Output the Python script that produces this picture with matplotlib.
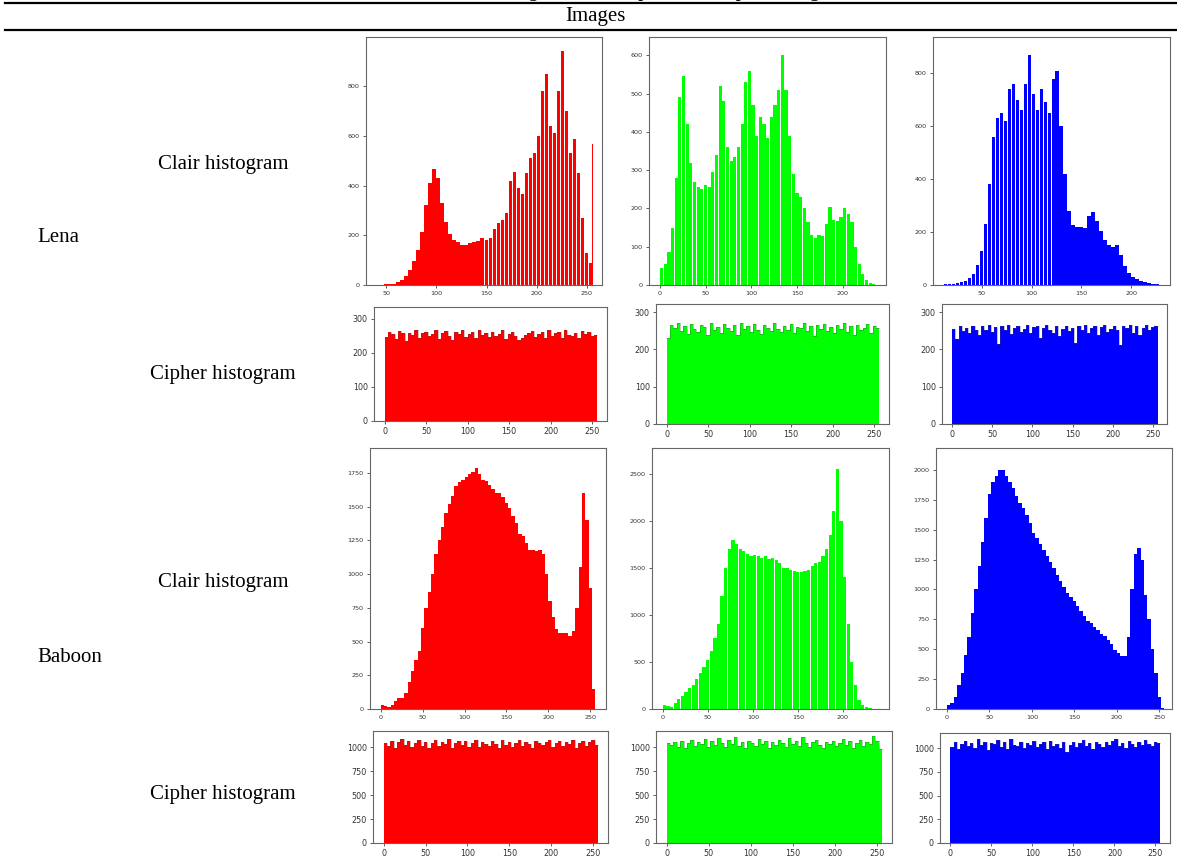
import numpy as np
import matplotlib
matplotlib.use('Agg')
import matplotlib.pyplot as plt
from matplotlib.lines import Line2D

# ---------------- data (counts per intensity bin, bins of width 4: 0,4,...,252) ----------------
bin_step = 4
levels = np.arange(0, 256, bin_step)

lena_red_clair = [
    0, 0, 0, 0, 0, 0, 0, 0,
    0, 0, 1, 2, 3, 4, 6, 12,
    22, 38, 60, 95, 140, 215, 320, 410,
    465, 430, 330, 255, 205, 180, 172, 162,
    160, 168, 172, 178, 190, 182, 188, 225,
    250, 262, 290, 420, 455, 390, 365, 450,
    510, 530, 600, 780, 850, 640, 610, 780,
    940, 700, 530, 585, 450, 270, 130, 90]
lena_red_spike_level = 255
lena_red_spike_count = 565

lena_green_clair = [
    45, 55, 85, 150, 280, 490, 545, 420,
    320, 268, 255, 250, 262, 255, 295, 340,
    520, 480, 360, 325, 335, 360, 420, 530,
    560, 470, 390, 440, 420, 385, 440, 470,
    510, 600, 510, 390, 290, 240, 230, 200,
    165, 130, 122, 130, 128, 160, 205, 170,
    168, 178, 200, 185, 165, 100, 55, 28,
    12, 5, 2, 0, 0, 0, 0, 0]

lena_blue_clair = [
    0, 0, 0, 2, 4, 5, 7, 10,
    15, 25, 40, 75, 130, 230, 380, 560,
    630, 650, 620, 740, 760, 700, 660, 760,
    870, 720, 660, 740, 690, 650, 780, 810,
    600, 420, 280, 225, 220, 220, 215, 260,
    275, 240, 205, 170, 150, 145, 150, 115,
    70, 45, 30, 22, 14, 10, 7, 5,
    3, 1, 0, 0, 0, 0, 0, 0]

baboon_red_clair = [
    30, 25, 15, 30, 60, 80, 80, 120,
    200, 280, 360, 430, 600, 750, 870, 1000,
    1150, 1250, 1350, 1450, 1520, 1580, 1650, 1680,
    1700, 1720, 1740, 1760, 1790, 1740, 1700, 1690,
    1660, 1630, 1600, 1600, 1570, 1530, 1490, 1430,
    1380, 1300, 1280, 1230, 1180, 1180, 1170, 1180,
    1150, 1000, 800, 680, 590, 560, 560, 560,
    540, 580, 750, 1050, 1600, 1400, 900, 150]

baboon_green_clair = [
    40, 30, 25, 60, 110, 140, 180, 220,
    260, 320, 380, 450, 520, 620, 750, 900,
    1200, 1500, 1700, 1800, 1750, 1700, 1680, 1650,
    1620, 1640, 1620, 1600, 1630, 1590, 1600, 1580,
    1550, 1500, 1500, 1480, 1470, 1450, 1450, 1470,
    1480, 1520, 1550, 1560, 1620, 1700, 1850, 2100,
    2550, 2000, 1400, 900, 500, 250, 100, 40,
    20, 8, 2, 0, 0, 0, 0, 0]

baboon_blue_clair = [
    30, 50, 100, 200, 300, 450, 600, 800,
    1000, 1200, 1400, 1600, 1800, 1900, 1950, 2000,
    2000, 1950, 1900, 1850, 1780, 1720, 1680, 1620,
    1560, 1470, 1430, 1380, 1330, 1280, 1230, 1180,
    1120, 1070, 1020, 970, 940, 900, 860, 820,
    780, 740, 720, 690, 660, 630, 610, 580,
    540, 490, 470, 440, 440, 600, 1000, 1300,
    1350, 1250, 950, 750, 500, 300, 100, 10]

lena_red_cipher = [
    248, 262, 255, 240, 265, 258, 236, 260,
    252, 266, 245, 258, 263, 249, 256, 268,
    242, 259, 264, 251, 238, 262, 257, 266,
    247, 255, 261, 244, 267, 253, 259, 246,
    263, 250, 257, 268, 241, 255, 262, 249,
    237, 245, 252, 259, 264, 248, 256, 261,
    243, 266, 251, 258, 262, 245, 267, 254,
    249, 260, 244, 265, 257, 262, 250, 252]

lena_green_cipher = [
    232, 265, 258, 270, 249, 262, 241, 268,
    255, 247, 266, 259, 238, 270, 252, 261,
    244, 268, 257, 250, 265, 239, 271, 256,
    262, 248, 269, 253, 241, 266, 258, 249,
    270, 255, 246, 263, 252, 268, 243, 260,
    257, 271, 249, 262, 237, 266, 254, 269,
    250, 259, 243, 265, 256, 270, 248, 262,
    240, 266, 253, 258, 268, 245, 262, 257]

lena_blue_cipher = [
    255, 228, 262, 249, 258, 243, 264, 252,
    238, 262, 251, 266, 247, 259, 216, 262,
    253, 265, 241, 257, 263, 248, 255, 265,
    244, 259, 262, 232, 258, 266, 251, 245,
    262, 236, 255, 264, 249, 257, 218, 263,
    252, 266, 245, 258, 263, 240, 259, 266,
    248, 255, 264, 251, 212, 262, 257, 265,
    245, 262, 240, 258, 266, 252, 259, 264]

baboon_red_cipher = [
    1040, 1010, 1065, 990, 1050, 1080, 1020, 1060,
    1000, 1045, 1075, 1015, 1055, 990, 1040, 1070,
    1010, 1050, 1030, 1085, 995, 1045, 1060, 1020,
    1065, 1005, 1040, 1075, 1000, 1055, 1030, 1010,
    1060, 1035, 990, 1070, 1020, 1050, 1000, 1045,
    1075, 1015, 1055, 1030, 985, 1060, 1040, 1020,
    1050, 1070, 1000, 1045, 1065, 1010, 1055, 1030,
    1070, 995, 1040, 1060, 1015, 1050, 1075, 1025]

baboon_green_cipher = [
    1040, 1020, 1055, 1000, 1065, 990, 1045, 1070,
    1010, 1050, 1035, 1080, 1000, 1060, 1025, 1090,
    1045, 1005, 1070, 1030, 1100, 1015, 1055, 985,
    1065, 1040, 1010, 1080, 1035, 1060, 995, 1050,
    1025, 1070, 1045, 1005, 1090, 1030, 1060, 1015,
    1105, 1040, 1000, 1055, 1075, 1020, 985, 1050,
    1035, 1065, 1010, 1045, 1080, 1025, 1060, 995,
    1040, 1070, 1015, 1055, 1035, 1120, 1060, 980]

baboon_blue_cipher = [
    1010, 1060, 990, 1045, 1080, 1020, 1055, 1000,
    1095, 1030, 1065, 985, 1050, 1040, 1085, 1010,
    1060, 990, 1095, 1035, 1020, 1070, 1000, 1050,
    1030, 1075, 1015, 1040, 1060, 995, 1080, 1020,
    1045, 1005, 1070, 955, 1035, 1060, 1010, 1050,
    1085, 1025, 1055, 990, 1070, 1040, 1015, 1060,
    1035, 1080, 1100, 1020, 1050, 1005, 1075, 1040,
    1010, 1065, 1030, 1085, 1045, 1020, 1070, 1055]

caption = "Histograms of the plain and cipher images"
header = "Images"
image_names = ["Lena", "Baboon"]
row_labels = ["Clair histogram", "Cipher histogram", "Clair histogram", "Cipher histogram"]

# ---------------- figure ----------------
W, H = 1177, 861
fig = plt.figure(figsize=(W / 100, H / 100), dpi=100)
SERIF = ['Liberation Serif', 'DejaVu Serif']

def px_axes(x0, y0, x1, y1):
    return fig.add_axes([x0 / W, 1 - y1 / H, (x1 - x0) / W, (y1 - y0) / H])

RED, GREEN, BLUE = '#ff0000', '#00ff00', '#0000ff'

panels = [
    # rect (px), counts, color, bar width, xlim, ylim, xticks, yticks, fontsize, cipher?
    ((366, 37, 602, 285), lena_red_clair, RED, 3.5, (30, 265), (0, 997),
     [50, 100, 150, 200, 250], [0, 200, 400, 600, 800], 4.6, False),
    ((649, 37, 886, 285), lena_green_clair, GREEN, 3.5, (-12, 247), (0, 648),
     [0, 50, 100, 150, 200], [0, 100, 200, 300, 400, 500, 600], 4.6, False),
    ((933, 37, 1170, 285), lena_blue_clair, BLUE, 3.5, (1, 239), (0, 937),
     [50, 100, 150, 200], [0, 200, 400, 600, 800], 4.6, False),
    ((374, 307, 607, 421), lena_red_cipher, RED, 4.0, (-12.75, 267.75), (0, 335),
     [0, 50, 100, 150, 200, 250], [0, 100, 200, 300], 5.8, True),
    ((656, 304, 889, 424), lena_green_cipher, GREEN, 4.0, (-12.75, 267.75), (0, 322),
     [0, 50, 100, 150, 200, 250], [0, 100, 200, 300], 5.8, True),
    ((942, 304, 1167, 424), lena_blue_cipher, BLUE, 4.0, (-12.75, 267.75), (0, 322),
     [0, 50, 100, 150, 200, 250], [0, 100, 200, 300], 5.8, True),
    ((370, 448, 606, 709), baboon_red_clair, RED, 4.0, (-12.8, 268.8), (0, 1935),
     [0, 50, 100, 150, 200, 250], [0, 250, 500, 750, 1000, 1250, 1500, 1750], 4.6, False),
    ((652, 448, 889, 709), baboon_green_clair, GREEN, 3.6, (-12, 251), (0, 2772),
     [0, 50, 100, 150, 200], [0, 500, 1000, 1500, 2000, 2500], 4.6, False),
    ((936, 448, 1172, 709), baboon_blue_clair, BLUE, 4.0, (-13, 265), (0, 2184),
     [0, 50, 100, 150, 200, 250], [0, 250, 500, 750, 1000, 1250, 1500, 1750, 2000], 4.6, False),
    ((373, 731, 608, 843), baboon_red_cipher, RED, 4.0, (-12.75, 267.75), (0, 1167),
     [0, 50, 100, 150, 200, 250], [0, 250, 500, 750, 1000], 5.8, True),
    ((656, 731, 892, 843), baboon_green_cipher, GREEN, 4.0, (-12.75, 267.75), (0, 1167),
     [0, 50, 100, 150, 200, 250], [0, 250, 500, 750, 1000], 5.8, True),
    ((940, 733, 1170, 843), baboon_blue_cipher, BLUE, 4.0, (-12.75, 267.75), (0, 1160),
     [0, 50, 100, 150, 200, 250], [0, 250, 500, 750, 1000], 5.8, True),
]

for i, (rect, counts, col, bw, xl, yl, xt, yt, fs, cipher) in enumerate(panels):
    ax = px_axes(*rect)
    ax.bar(levels, counts, width=bw, align='edge', color=col, linewidth=0)
    if cipher:
        # darker jagged tips as in the reference rendering
        ax.step(np.append(levels, levels[-1] + bin_step),
                np.append(counts, counts[-1]), where='post',
                color='#444444', linewidth=0.5, alpha=0.45)
    if i == 0:
        ax.bar([lena_red_spike_level], [lena_red_spike_count], width=1.2,
               align='edge', color=col, linewidth=0)
    ax.set_xlim(*xl)
    ax.set_ylim(*yl)
    ax.set_xticks(xt)
    ax.set_yticks(yt)
    for sp in ax.spines.values():
        sp.set_color('#666666')
        sp.set_linewidth(0.8)
    ax.tick_params(length=2.5, width=0.6, color='#444444', labelsize=fs,
                   labelcolor='#333333', pad=2)

# ---------------- table text & rules ----------------
fig.text(660 / W, 1 + 4.0 / H, caption, ha='center', va='baseline',
         fontsize=15, family=SERIF)
fig.text(595 / W, 1 - 17 / H, header, ha='center', va='center',
         fontsize=15, family=SERIF)
for ypx in (3, 30):
    fig.add_artist(Line2D([5 / W, 1], [1 - ypx / H, 1 - ypx / H], color='black',
                          linewidth=1.6, transform=fig.transFigure))

fig.text(37 / W, 1 - 238 / H, image_names[0], ha='left', va='center',
         fontsize=15, family=SERIF)
fig.text(37 / W, 1 - 657 / H, image_names[1], ha='left', va='center',
         fontsize=15, family=SERIF)
for lbl, ypx in zip(row_labels, (164, 375, 583, 795)):
    fig.text(223 / W, 1 - ypx / H, lbl, ha='center', va='center',
             fontsize=15, family=SERIF)

fig.savefig('out.png', dpi=100)
